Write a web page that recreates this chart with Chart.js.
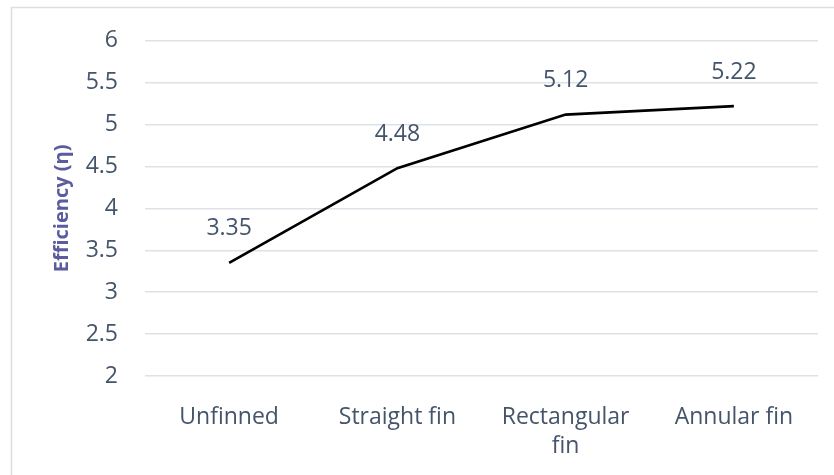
<!DOCTYPE html>
<html>
<head>
<meta charset="utf-8">
<script src="https://cdn.jsdelivr.net/npm/chart.js@4/dist/chart.umd.min.js"></script>
<style>
  html, body { margin: 0; padding: 0; background: #fff; }
  #wrap { width: 834px; height: 475px; position: relative; }
</style>
</head>
<body>
<div id="wrap"><canvas id="c" width="834" height="475"></canvas></div>
<script>
const categories = ['Unfinned', 'Straight fin', ['Rectangular', 'fin'], 'Annular fin'];
const efficiency = [3.35, 4.48, 5.12, 5.22];
const yTicks = { min: 2, max: 6, step: 0.5 };

const textColor = '#44546A';
const gridColor = '#DDE2E8';
const fontFamily = '"Open Sans", "Liberation Sans", sans-serif';

// Light frame around the chart (top and left edges fall inside the canvas)
const framePlugin = {
  id: 'frame',
  beforeDraw(chart) {
    const ctx = chart.ctx;
    ctx.save();
    ctx.strokeStyle = '#D9DEE5';
    ctx.lineWidth = 1.5;
    ctx.beginPath();
    ctx.moveTo(11.5, chart.height + 2);
    ctx.lineTo(11.5, 7.5);
    ctx.lineTo(chart.width + 2, 7.5);
    ctx.stroke();
    ctx.restore();
  }
};

// Value labels above each point
const valueLabels = {
  id: 'valueLabels',
  afterDatasetsDraw(chart) {
    const ctx = chart.ctx;
    const meta = chart.getDatasetMeta(0);
    ctx.save();
    ctx.fillStyle = textColor;
    ctx.font = '23px ' + fontFamily;
    ctx.textAlign = 'center';
    ctx.textBaseline = 'middle';
    meta.data.forEach((pt, i) => {
      ctx.fillText(String(chart.data.datasets[0].data[i]), pt.x, pt.y - 34);
    });
    ctx.restore();
  }
};

new Chart(document.getElementById('c'), {
  type: 'line',
  data: {
    labels: categories,
    datasets: [{
      data: efficiency,
      borderColor: '#000000',
      borderWidth: 2.75,
      pointRadius: 0,
      tension: 0,
      fill: false
    }]
  },
  options: {
    responsive: false,
    animation: false,
    layout: { padding: { top: 38, right: 16, left: 0, bottom: 0 } },
    plugins: { legend: { display: false }, tooltip: { enabled: false } },
    scales: {
      x: {
        offset: true,
        grid: { display: false, drawTicks: false, offset: true },
        border: { display: false },
        ticks: {
          color: textColor,
          font: { family: fontFamily, size: 23, lineHeight: 1.25 },
          padding: 27,
          maxRotation: 0,
          autoSkip: false
        },
        afterFit(scale) { scale.height = 475 - 376; }
      },
      y: {
        min: yTicks.min,
        max: yTicks.max,
        grid: { color: gridColor, lineWidth: 1.5, drawTicks: false },
        border: { display: false },
        ticks: {
          stepSize: yTicks.step,
          color: textColor,
          font: { family: fontFamily, size: 23 },
          padding: 27,
          callback: (v) => String(v)
        },
        title: {
          display: true,
          text: 'Efficiency (η)',
          color: '#5A5C9E',
          font: { family: fontFamily, size: 20, weight: 'bold' },
          padding: { top: 50, bottom: 0 }
        },
        afterFit(scale) { scale.width = 145; }
      }
    }
  },
  plugins: [framePlugin, valueLabels]
});
</script>
</body>
</html>
